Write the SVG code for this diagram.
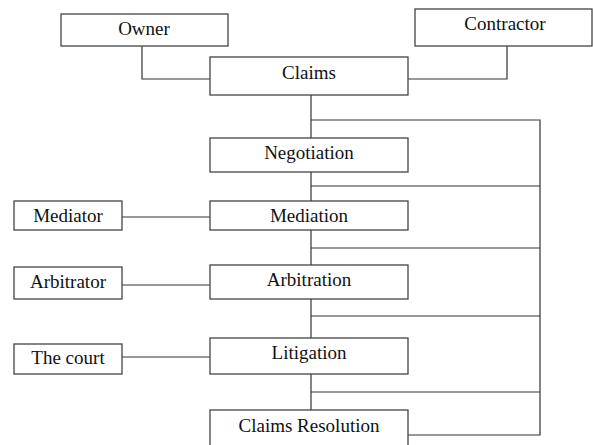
<svg xmlns="http://www.w3.org/2000/svg" width="593" height="445" viewBox="0 0 593 445">
<style>
rect{fill:#fff;stroke:#444;stroke-width:1.3}
text{font-family:"Liberation Serif","Times New Roman",serif;font-size:19px;fill:#111;text-anchor:middle}
.c{fill:none;stroke:#333;stroke-width:1.2}
</style>
<rect x="0" y="0" width="593" height="445" style="stroke:none"/>
<g id="connectors">
<polyline class="c" points="142,46 142,79 210,79"/>
<polyline class="c" points="507,46 507,79 408,79"/>
<line class="c" x1="311" y1="95" x2="311" y2="138"/>
<polyline class="c" points="311,120 540,120 540,435 408,435"/>
<line class="c" x1="311" y1="172" x2="311" y2="201"/>
<line class="c" x1="311" y1="186" x2="540" y2="186"/>
<line class="c" x1="311" y1="230" x2="311" y2="265"/>
<line class="c" x1="311" y1="248" x2="540" y2="248"/>
<line class="c" x1="311" y1="299" x2="311" y2="338"/>
<line class="c" x1="311" y1="316" x2="540" y2="316"/>
<line class="c" x1="311" y1="374" x2="311" y2="410"/>
<line class="c" x1="311" y1="392" x2="540" y2="392"/>
<line class="c" x1="122" y1="217" x2="210" y2="217"/>
<line class="c" x1="122" y1="285" x2="210" y2="285"/>
<line class="c" x1="122" y1="357" x2="210" y2="357"/>
</g>
<g id="owner"><rect x="61" y="14" width="167" height="32"/><text x="144" y="34.5">Owner</text></g>
<g id="contractor"><rect x="415" y="9" width="177" height="37"/><text x="505" y="30">Contractor</text></g>
<g id="claims"><rect x="210" y="57" width="198" height="38"/><text x="309" y="79">Claims</text></g>
<g id="negotiation"><rect x="210" y="138" width="198" height="34"/><text x="309" y="159">Negotiation</text></g>
<g id="mediation"><rect x="210" y="201" width="198" height="29"/><text x="309" y="222">Mediation</text></g>
<g id="mediator"><rect x="14" y="201" width="108" height="29"/><text x="68" y="222">Mediator</text></g>
<g id="arbitration"><rect x="210" y="265" width="198" height="34"/><text x="309" y="286">Arbitration</text></g>
<g id="arbitrator"><rect x="14" y="267" width="108" height="32"/><text x="68" y="288">Arbitrator</text></g>
<g id="litigation"><rect x="210" y="338" width="198" height="36"/><text x="309" y="359">Litigation</text></g>
<g id="court"><rect x="14" y="344" width="108" height="30"/><text x="68" y="364">The court</text></g>
<g id="resolution"><rect x="210" y="410" width="198" height="40"/><text x="309" y="432">Claims Resolution</text></g>
</svg>
